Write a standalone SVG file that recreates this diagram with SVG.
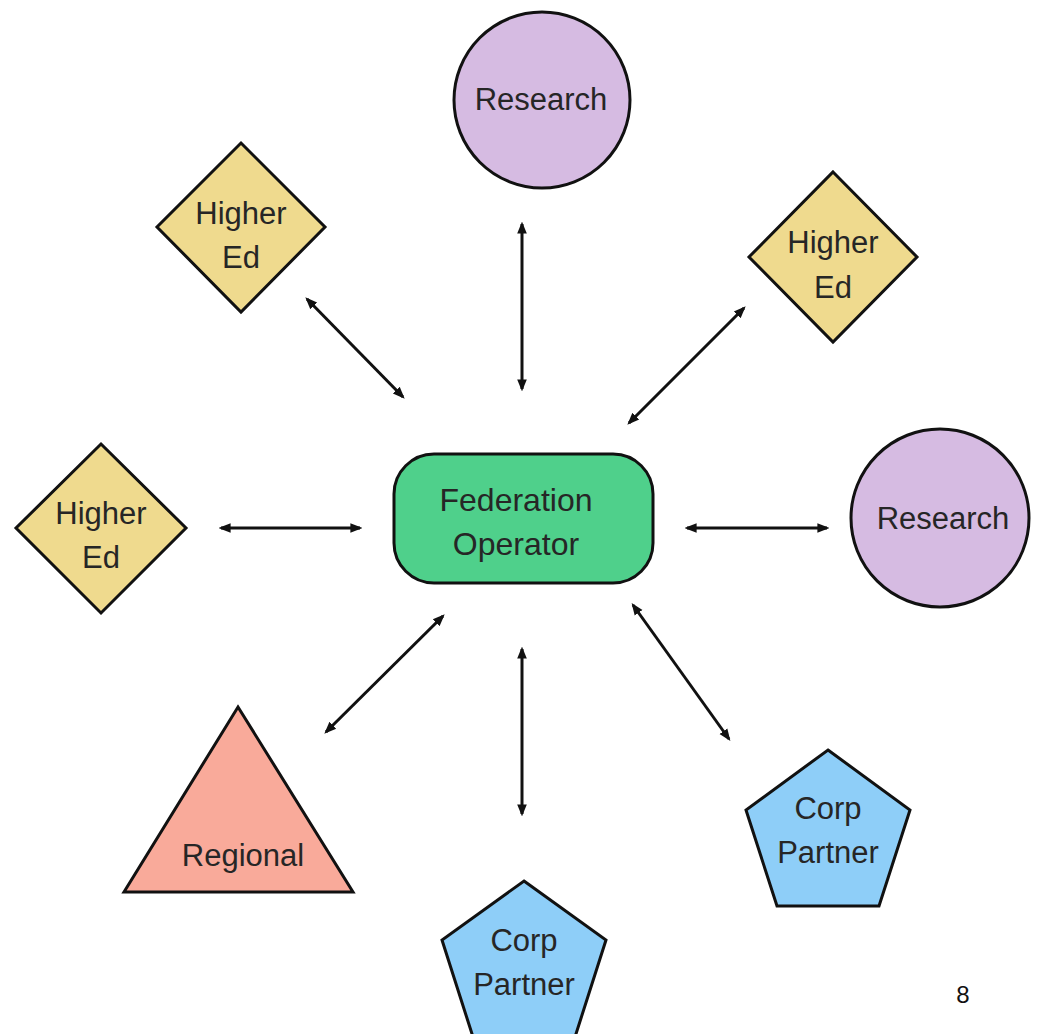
<svg xmlns="http://www.w3.org/2000/svg" width="1038" height="1034" viewBox="0 0 1038 1034">
<defs>
<style>
.lbl{font-family:"Liberation Sans",Arial,sans-serif;font-size:31px;fill:#262626;text-anchor:middle}
.shape{stroke:#111;stroke-width:3}
.res{fill:#D6BBE2}
.hed{fill:#EFDA8E}
.fed{fill:#4FD08B}
.reg{fill:#F9AA9A}
.corp{fill:#8ECEF8}
.conn{stroke:#111;stroke-width:3;fill:none;marker-start:url(#ah);marker-end:url(#ah)}
</style>
<marker id="ah" viewBox="0 0 10 10" refX="8" refY="5" markerWidth="4" markerHeight="4" orient="auto-start-reverse" markerUnits="strokeWidth">
<path d="M0,1 L10,5 L0,9 Z" fill="#111"/>
</marker>
</defs>
<rect width="1038" height="1034" fill="#fff"/>
<g id="connectors">
<line class="conn" x1="522" y1="224" x2="522" y2="389"/>
<line class="conn" x1="307" y1="299" x2="403" y2="397"/>
<line class="conn" x1="744" y1="308" x2="629" y2="423"/>
<line class="conn" x1="221" y1="528" x2="360" y2="528"/>
<line class="conn" x1="687" y1="528" x2="827" y2="528"/>
<line class="conn" x1="443" y1="616" x2="326" y2="732"/>
<line class="conn" x1="522" y1="649" x2="522" y2="814"/>
<line class="conn" x1="633" y1="605" x2="729" y2="739"/>
</g>
<g id="federation-operator">
<rect class="shape fed" x="394" y="454" width="259" height="129" rx="40" ry="40"/>
<text class="lbl" x="516" y="511" style="font-size:32px">Federation</text>
<text class="lbl" x="516" y="555" style="font-size:32px">Operator</text>
</g>
<g id="research-top">
<circle class="shape res" cx="542" cy="100" r="88"/>
<text class="lbl" x="541" y="110">Research</text>
</g>
<g id="research-right">
<circle class="shape res" cx="940" cy="518" r="89"/>
<text class="lbl" x="943" y="529">Research</text>
</g>
<g id="higher-ed-topleft">
<polygon class="shape hed" points="241,143 325,227 241,312 157,227"/>
<text class="lbl" x="241" y="224">Higher</text>
<text class="lbl" x="241" y="268">Ed</text>
</g>
<g id="higher-ed-topright">
<polygon class="shape hed" points="833,172 917,257 833,342 749,257"/>
<text class="lbl" x="833" y="253">Higher</text>
<text class="lbl" x="833" y="298">Ed</text>
</g>
<g id="higher-ed-left">
<polygon class="shape hed" points="101,444 186,528 101,613 16,528"/>
<text class="lbl" x="101" y="524">Higher</text>
<text class="lbl" x="101" y="568">Ed</text>
</g>
<g id="regional">
<polygon class="shape reg" points="238,707 353,892 124,892"/>
<text class="lbl" x="243" y="866">Regional</text>
</g>
<g id="corp-partner-right">
<polygon class="shape corp" points="828,750 910,810 879,906 777,906 746,810"/>
<text class="lbl" x="828" y="819">Corp</text>
<text class="lbl" x="828" y="863">Partner</text>
</g>
<g id="corp-partner-bottom">
<polygon class="shape corp" points="524,881 606,940 575,1037 473,1037 442,940"/>
<text class="lbl" x="524" y="951">Corp</text>
<text class="lbl" x="524" y="995">Partner</text>
</g>
<text x="963" y="1003" style="font-family:'Liberation Sans',Arial,sans-serif;font-size:24px;fill:#111;text-anchor:middle">8</text>
</svg>
